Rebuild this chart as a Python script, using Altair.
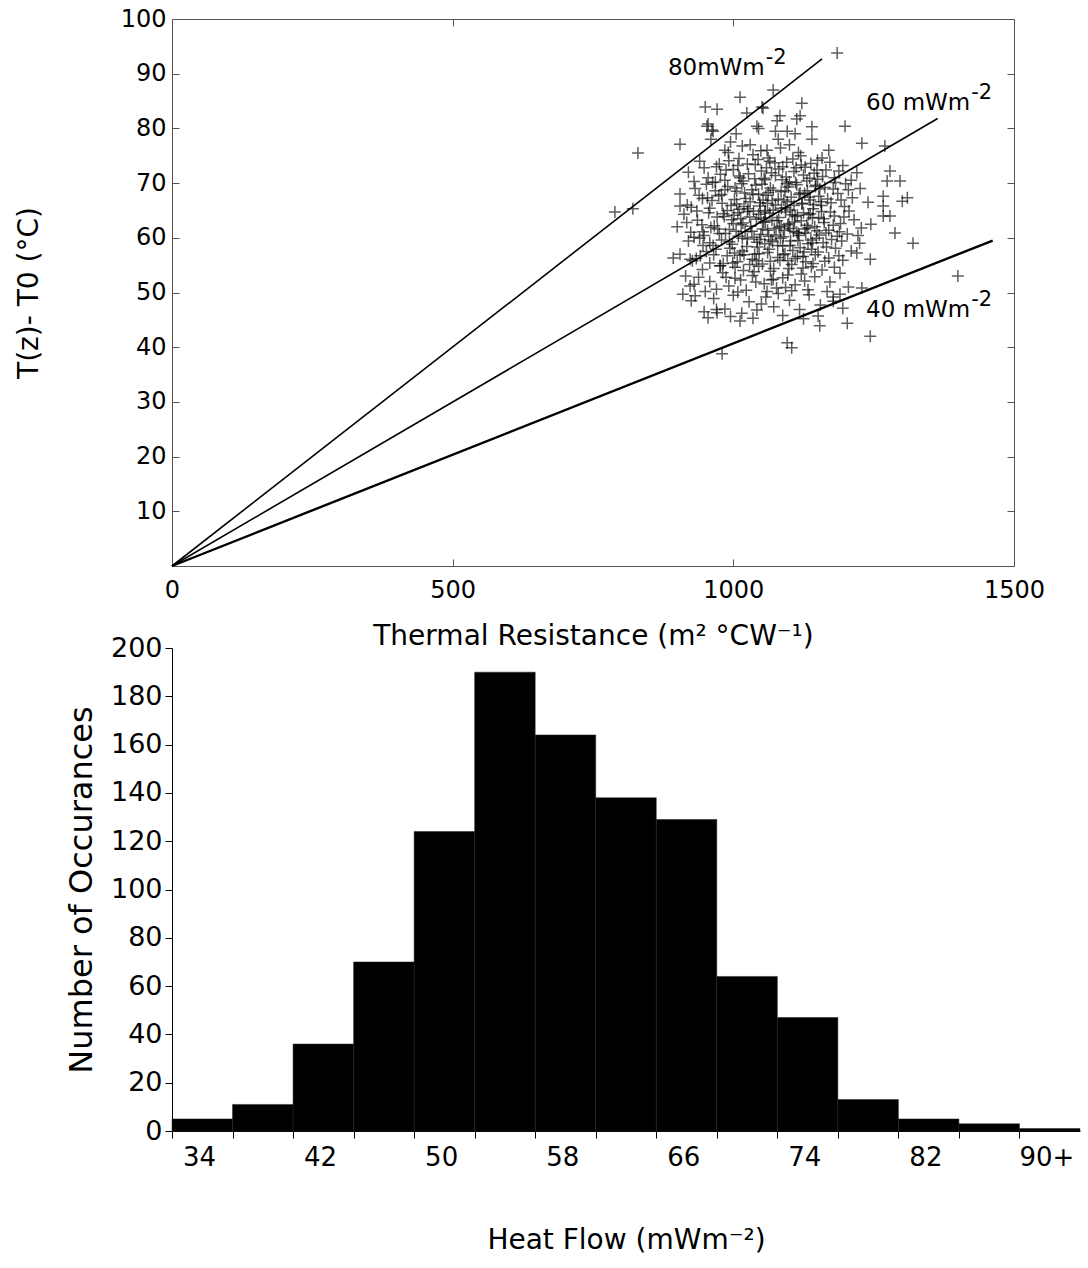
import altair as alt
import pandas as pd

# ---------------- data: scatter (thermal resistance vs temperature difference)
scatter_R = [
    1185, 830, 789, 821, 905, 950, 971, 1012, 1071, 1122, 1051, 1024, 1083, 1119, 1199, 1140, 953, 964,
    905, 1270, 1229, 1279, 1274, 1297, 1267, 1301, 1310, 1267, 1267, 1279, 1288, 1320, 1400, 893, 923,
    910, 932, 923, 1244, 1220, 1229, 1203, 1244, 1151, 1154, 1096, 1104, 980, 971, 1012, 1190, 1178,
    1042, 1113, 1096, 1078, 1053, 955, 962,
    960, 985, 1005, 1030, 1045, 1060, 1080, 1100, 1120, 1140, 1010, 975, 1065, 1095, 1150, 1170, 995, 1035, 1075, 1110,
    920, 940, 955, 970, 985, 1000, 1012, 1025, 1038, 1050, 1062, 1075, 1088, 1100, 1112, 1125, 1138, 1150, 1165, 1180,
    1195, 1210, 930, 948, 963, 992, 1018, 1044, 1057, 1081, 1106, 1131, 1158, 1188, 1220, 1008, 1068, 1094, 1144, 977,
    905, 918, 932, 945, 958, 968, 980, 990, 1002, 1011, 1020, 1030, 1040, 1048, 1058, 1066, 1075, 1085, 1093, 1103,
    1113, 1122, 1132, 1142, 1152, 1163, 1174, 1186, 1198, 1212, 1226, 1240, 925, 952, 974, 996, 1015, 1035, 1053, 1071,
    1080, 1098, 1117, 1137, 1157, 1178, 1205, 962, 1006, 1026, 1062, 1090, 1127, 1147, 1192, 939, 985, 1045, 1108, 1168,
    900, 912, 924, 936, 948, 956, 966, 975, 984, 993, 1001, 1009, 1017, 1025, 1033, 1041, 1049, 1057, 1065, 1073,
    1081, 1089, 1097, 1105, 1113, 1121, 1129, 1137, 1145, 1153, 1161, 1170, 1180, 1191, 1203, 1215, 1228, 1245, 930, 960,
    989, 1013, 1037, 1061, 1085, 1109, 1133, 1157, 1185, 1000, 1021, 1045, 1069, 1093, 1117, 1141, 1165, 944, 971, 1052,
    1076, 1101, 1125, 1149, 1029, 1197, 1222, 917, 1005, 1057, 1110,
    905, 920, 934, 946, 958, 969, 979, 989, 998, 1007, 1016, 1025, 1034, 1043, 1052, 1061, 1070, 1079, 1088, 1097,
    1106, 1115, 1124, 1133, 1142, 1151, 1160, 1170, 1182, 1195, 1210, 1225, 940, 965, 993, 1012, 1038, 1066, 1092, 1119,
    1146, 1175, 1002, 1029, 1056, 1084, 1110, 1138, 1163, 952, 982, 1047, 1101, 1129, 1188, 927,
    915, 930, 945, 958, 970, 981, 992, 1003, 1013, 1023, 1034, 1045, 1055, 1066, 1077, 1088, 1099, 1110, 1121, 1133,
    1145, 1158, 1172, 1190, 1205, 950, 976, 1008, 1040, 1071, 1104, 1139, 1167, 987, 1018, 1060, 1093, 1127, 1180, 938,
    925, 948, 965, 985, 1000, 1015, 1028, 1042, 1058, 1072, 1088, 1100, 1118, 1135, 1155, 1178, 955, 995, 1035, 1080,
    1125, 1195, 970, 1050,
    968, 982, 994, 1003, 1014, 1019, 1027, 1036, 1042, 1047, 1054, 1059, 1064, 1071, 1078, 1083, 1087, 1091, 1096, 1102,
    1108, 1114, 1119, 1126, 1131, 1136, 1143, 1148, 1154, 1162,
    972, 979, 987, 997, 1006, 1010, 1016, 1022, 1031, 1039, 1046, 1051, 1056, 1063, 1069, 1074, 1079, 1086, 1092, 1099,
    1104, 1111, 1116, 1123, 1128, 1134, 1139, 1146, 1152, 1159,
    964, 977, 986, 999, 1008, 1019, 1024, 1033, 1041, 1049, 1055, 1061, 1067, 1072, 1082, 1089, 1095, 1101, 1107, 1114,
    1121, 1127, 1135, 1141, 1149, 1156, 1166, 1173, 1182, 1189,
    991, 1016, 1049, 1084, 1116, 1003, 1037, 1068, 1097, 1124, 1172, 1178, 1193, 1200, 1206, 935, 946, 954, 958, 941,
]
scatter_T = [
    93.8, 75.5, 64.7, 65.3, 77.1, 83.9, 83.5, 85.7, 87.0, 84.6, 83.9, 82.8, 82.3, 82.3, 80.4, 80.3, 80.4, 79.5,
    65.8, 76.8, 77.3, 72.2, 70.4, 70.4, 67.6, 66.7, 67.3, 65.8, 64.0, 64.0, 60.9, 59.0, 53.0, 56.3, 56.1,
    49.7, 49.4, 51.2, 56.1, 57.2, 50.8, 44.4, 42.0, 45.7, 43.9, 40.8, 39.9, 38.8, 46.3, 44.8, 49.7, 48.4,
    80.4, 81.7, 79.5, 81.4, 83.7, 80.8, 79.7,
    78, 76, 79, 77, 80, 76, 78, 77, 75, 78, 74.5, 73.5, 74, 73.8, 74.2, 76, 77.5, 75.2, 79.5, 79,
    72, 74, 71, 73, 70.5, 72.5, 71, 73.5, 70.8, 72.2, 74.6, 71.4, 73, 70.2, 72.8, 71.5, 73.6, 70.7, 72.4, 71,
    73.2, 70.5, 70.3, 72.8, 70.1, 74.1, 70.4, 74.3, 70.6, 72.6, 74.4, 70.4, 74.6, 72.2, 71.9, 73.2, 71.9, 71.1, 71.8, 71.6,
    68, 66, 69, 67.2, 65.4, 68.6, 66.3, 69.4, 67, 65.2, 68.2, 66.6, 69.6, 65.8, 67.8, 69.1, 66, 68.4, 65.5, 67.4,
    69.7, 66.2, 68.6, 65.3, 67.6, 69.2, 66.4, 68.1, 65.7, 67.3, 69, 66.5, 65.6, 69.8, 67.7, 65.9, 69.9, 67.9, 66.9, 65.1,
    67.1, 69.3, 67.9, 66.9, 65.9, 68.9, 68.8, 66.8, 68.5, 65.3, 68.3, 66.9, 68.1, 69.6, 66.9, 67.8, 68.8, 68, 65.9, 67.1,
    62, 64.3, 61, 63.2, 60.4, 64.6, 62.2, 60.8, 63.9, 61.5, 64.1, 60.3, 62.7, 64.8, 61.2, 63.4, 60.6, 62.9, 64.5, 61.7,
    63.7, 60.2, 62.4, 64.2, 61, 63.1, 60.9, 64.4, 62, 60.5, 63.5, 61.4, 64, 62.6, 60.7, 63.3, 61.8, 62.5, 60.1, 61.9,
    65, 63.5, 60.1, 61.4, 62.1, 62.9, 61.8, 64.8, 60.3, 62.6, 61.1, 64.3, 63.2, 64.7, 60.4, 63.6, 60.9, 62.4, 63.8, 61.6,
    60.5, 61.7, 64.6, 61.3, 63.8, 63.8, 60.4, 62.8, 61.2, 65, 63.9,
    57, 59.4, 56.2, 58.6, 55.4, 57.9, 59.6, 56.7, 58.8, 55.6, 57.6, 59.8, 56.1, 58.3, 55.2, 57.3, 59.3, 56.4, 58.5, 55.8,
    57.7, 59.5, 56.6, 58.9, 55.3, 57.4, 59.1, 56.3, 58.1, 55.9, 57.6, 59, 59.9, 56.9, 59.3, 56.8, 57, 55.7, 57.1, 58.2,
    56.9, 59.7, 57.2, 55.1, 58.9, 59.9, 56.2, 59.6, 55.7, 57.5, 55.3, 59.7, 58.6, 55.6, 56.7, 55.8,
    53, 51.5, 54.2, 52, 50.6, 53.6, 51.2, 54.6, 52.3, 50.4, 53.1, 54.8, 51.6, 53.9, 50.8, 52.7, 54.4, 51.4, 53.4, 50.5,
    52.9, 54.1, 51.9, 53.5, 51, 50.2, 54.9, 50.1, 51.9, 52.4, 50.3, 54.7, 50.2, 52.8, 54, 50.2, 50.9, 52.1, 54.6, 52.8,
    48.5, 46.5, 48.9, 47, 49.5, 46.2, 48.3, 46.8, 49.2, 47.4, 45.8, 48.6, 46.9, 49.6, 47.7, 49.2, 45.4, 45.6, 45.3, 49.8,
    45.2, 47.1, 46.9, 47.9,
    70.2, 64.4, 58.1, 69.1, 62.4, 56.9, 71.7, 64.9, 59.2, 66.4, 62.9, 72.8, 57.9, 68.7, 63.1, 55.9, 70.6, 61.4, 66.6, 59.4,
    72.1, 64.1, 68.2, 57.4, 62.3, 70.9, 66.1, 59.9, 68.9, 62.8,
    61.6, 67.9, 72.4, 63.3, 66.2, 71.3, 59.9, 67.2, 62.1, 73.4, 57.1, 69.8, 64.7, 60.3, 66.8, 73.7, 58.6, 65.4, 68.6, 62.6,
    55.1, 70.1, 60.8, 66.3, 72.9, 64.2, 57.9, 69.4, 63.7, 71.2,
    58.6, 54.9, 60.8, 55.4, 64.6, 65.7, 58.4, 68.8, 55.8, 63.6, 70.9, 66.3, 59.6, 54.4, 61.9, 56.9, 69.9, 65.1, 61.2, 56.6,
    73.3, 61.6, 67.4, 59.1, 72.4, 66.6, 58.3, 64.7, 70.1, 61.1,
    75.6, 76.8, 75.9, 76.4, 75.6, 52.6, 53.8, 52.3, 53.2, 54.5, 73.8, 62.3, 59.4, 69.9, 64.9, 64.9, 61.1, 67.3, 59.1, 56.7,
]

# ---------------- data: heat-flow reference lines (from origin to end point)
line_names = ["80", "60", "40"]
line_R_end = [1158, 1364, 1462]
line_T_end = [92.7, 81.8, 59.5]
line_width = [1.6, 1.6, 2.4]

# line annotations: main text (right-aligned at anchor) and raised exponent
label_texts = ["80mWm", "60 mWm", "40 mWm"]
label_sup = ["-2", "-2", "-2"]
label_R = [1056, 1422, 1422]
label_T = [91.0, 84.6, 46.8]

# ---------------- data: histogram of heat flow
bin_start = [32, 36, 40, 44, 48, 52, 56, 60, 64, 68, 72, 76, 80, 84, 88]
bin_end = [36, 40, 44, 48, 52, 56, 60, 64, 68, 72, 76, 80, 84, 88, 92]
counts = [5, 11, 36, 70, 124, 190, 164, 138, 129, 64, 47, 13, 5, 3, 1]

FONT = "DejaVu Sans"

scatter_df = pd.DataFrame({"R": scatter_R, "T": scatter_T})
rows = []
for n, r, t, w in zip(line_names, line_R_end, line_T_end, line_width):
    rows.append({"q": n, "R": 0, "T": 0, "w": w, "o": 0})
    rows.append({"q": n, "R": r, "T": t, "w": w, "o": 1})
lines_df = pd.DataFrame(rows)
labels_df = pd.DataFrame({"txt": label_texts, "sup": label_sup, "R": label_R, "T": label_T})
hist_df = pd.DataFrame({"b0": bin_start, "b1": bin_end, "n": counts})

xs = alt.Scale(domain=[0, 1500], nice=False)
ys = alt.Scale(domain=[0, 100], nice=False)

TICK = 7
axis_common = dict(domain=False, grid=False, tickColor="#555", tickWidth=1, tickSize=TICK,
                   offset=-TICK, labelFont=FONT, labelColor="#000", titleFont=FONT,
                   titleColor="#000", titleFontWeight="normal")

lines = alt.Chart(lines_df).mark_line(color="#000").encode(
    x=alt.X("R:Q", scale=xs, axis=alt.Axis(
        orient="bottom", values=[0, 500, 1000, 1500], format="d", labelFontSize=24, labelPadding=12,
        labelFlush=False, title="Thermal Resistance (m² °CW⁻¹)", titleFontSize=28,
        titlePadding=20, **axis_common)),
    y=alt.Y("T:Q", scale=ys, axis=alt.Axis(
        orient="left", values=[10, 20, 30, 40, 50, 60, 70, 80, 90, 100], format="d", labelFontSize=24,
        labelPadding=6, labelFlush=False, title="T(z)- T0 (°C)", titleFontSize=28,
        titlePadding=77, **axis_common)),
    detail="q:N",
    order="o:Q",
    strokeWidth=alt.StrokeWidth("w:Q", scale=None),
)

points = alt.Chart(scatter_df).mark_point(
    shape="M-1,0L1,0M0,-1L0,1", size=144, filled=False, stroke="#000",
    strokeOpacity=0.9, strokeWidth=1.5
).encode(
    x=alt.X("R:Q", scale=xs, axis=alt.Axis(
        orient="top", values=[500, 1000], labels=False, title=None, **axis_common)),
    y=alt.Y("T:Q", scale=ys, axis=alt.Axis(
        orient="right", values=[10, 20, 30, 40, 50, 60, 70, 80, 90], labels=False,
        title=None, **axis_common)),
)

labels_main = alt.Chart(labels_df).mark_text(
    font=FONT, fontSize=23, align="right", baseline="middle", color="#000"
).encode(
    x=alt.X("R:Q", scale=xs, axis=None),
    y=alt.Y("T:Q", scale=ys, axis=None),
    text="txt:N",
)

labels_sup = alt.Chart(labels_df).mark_text(
    font=FONT, fontSize=21, align="left", baseline="middle", color="#000", dx=1, dy=-10
).encode(
    x=alt.X("R:Q", scale=xs, axis=None),
    y=alt.Y("T:Q", scale=ys, axis=None),
    text="sup:N",
)

top = alt.layer(lines, points, labels_main, labels_sup).resolve_axis(
    x="independent", y="independent"
).properties(
    width=842, height=547,
    view=alt.ViewBackground(stroke="#555", strokeWidth=1),
)

hist = alt.Chart(hist_df).mark_bar(color="#000", stroke="#222", strokeWidth=0.5).encode(
    x=alt.X("b0:Q", scale=alt.Scale(domain=[32, 92], nice=False), axis=alt.Axis(
        values=bin_start, labelExpr="datum.value % 8 == 0 ? (datum.value == 88 ? '90+' : toString(datum.value + 2)) : ''",
        labelOffset=27, labelOverlap=False, labelFlush=False, labelBound=False,
        labelFontSize=26, labelPadding=6, labelFont=FONT, labelColor="#000",
        tickSize=7, tickColor="#000", domainColor="#000", grid=False,
        title="Heat Flow (mWm⁻²)", titleFont=FONT, titleFontSize=28, titleFontWeight="normal",
        titleColor="#000", titlePadding=56)),
    x2="b1:Q",
    y=alt.Y("n:Q", scale=alt.Scale(domain=[0, 200], nice=False), axis=alt.Axis(
        values=list(range(0, 201, 20)), labelFontSize=27, labelPadding=3, labelFont=FONT,
        labelColor="#000", tickSize=7, tickColor="#000", domainColor="#000", grid=False,
        labelFlush=False,
        title="Number of Occurances", titleFont=FONT, titleFontSize=32, titleFontWeight="normal",
        titleColor="#000", titlePadding=12)),
    y2=alt.datum(0),
).properties(width=908, height=483, view=alt.ViewBackground(stroke="transparent"))

chart = alt.vconcat(top, hist, spacing=82, bounds="flush").properties(
    padding={"left": 14, "top": 6, "right": 4, "bottom": 4},
    background="white",
)

chart.save("out.html", embed_options={"renderer": "svg", "actions": False})
